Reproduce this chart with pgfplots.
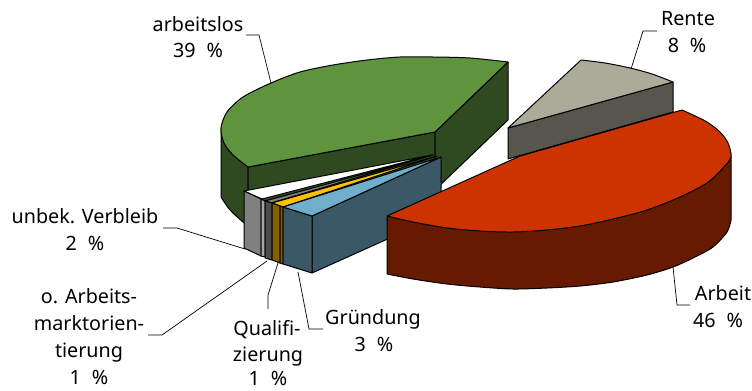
\documentclass[border=0pt]{standalone}
\usepackage{pgfplots}
\pgfplotsset{compat=1.18}
\usepackage{fontspec}
\setmainfont{Noto Sans}
\definecolor{gtop}{HTML}{5F943F}
\definecolor{gside}{HTML}{2F4A20}
\definecolor{rtop}{HTML}{CC3300}
\definecolor{rside}{HTML}{661A00}
\definecolor{ntop}{HTML}{ABAB99}
\definecolor{nside}{HTML}{56564D}
\definecolor{btop}{HTML}{70AFCC}
\definecolor{bside}{HTML}{3A5866}
\definecolor{ytop}{HTML}{FFC000}
\definecolor{yside}{HTML}{806000}
\definecolor{gr}{HTML}{808080}
\definecolor{dgr}{HTML}{4D4D4D}
\tikzset{
  slice/.style={draw=black, line width=1bp, line join=round},
  leader/.style={draw=black, line width=0.7bp},
  lab/.style={font=\fontsize{19.8}{24}\selectfont, inner sep=0pt, anchor=base},
}
% percentage with the wide gap before the sign
\newcommand{\pct}[1]{#1\hspace{0.55em}\%}
\begin{document}
\begin{tikzpicture}[x=1bp,y=1bp]
\path[use as bounding box] (0,0) rectangle (752,390);
\begin{axis}[
  at={(0,0)}, anchor=south west,
  width=752bp, height=390bp, scale only axis,
  xmin=0, xmax=752, ymin=0, ymax=390, y dir=reverse,
  hide axis, clip=false,
]
% arbeitslos 39 %: rim, cut faces, then the top
\addplot[slice, fill=gside, smooth] coordinates {(221,197)(230,210)(243,222)(248,226)} -- (axis cs:248,167) -- (axis cs:221,128) -- cycle;
\addplot[slice, fill=gside] coordinates {(248,167)(435,132)(435,190)(248,226)} -- cycle;
\addplot[slice, fill=gside] coordinates {(435,132)(508,62)(508,120)(435,190)} -- cycle;
\addplot[slice, fill=gtop, smooth] coordinates {(248,167)(233,155)(224,143)(221,128)(227,112)(243,97)(271,83)(300,72)(333,65)(367,60)(400,57)(433,57)(470,58)(508,62)} -- (axis cs:435,132) -- cycle;
% unbek. Verbleib 2 %
\addplot[slice, fill=white] coordinates {(244,191)(262,199)(432,155)} -- cycle;
\addplot[slice, fill=gr] coordinates {(244,191)(261,199)(261,256)(244,248)} -- cycle;
\addplot[slice, fill=gray!70] coordinates {(261,199)(265,201)(265,257)(261,256)} -- cycle;
% o. Arbeitsmarktorientierung 1 %
\addplot[slice, fill=gr] coordinates {(265,201)(271,203)(433,155)} -- cycle;
\addplot[slice, fill=dgr] coordinates {(265,201)(272,203)(272,260)(265,258)} -- cycle;
% Qualifizierung 1 %
\addplot[slice, fill=ytop] coordinates {(272,203)(283,207)(437,156)} -- cycle;
\addplot[slice, fill=yside] coordinates {(272,203)(280,206)(280,263)(272,260)} -- cycle;
\addplot[slice, fill=yside] coordinates {(280,206)(283,207)(283,264)(280,263)} -- cycle;
% Gründung 3 %
\addplot[slice, fill=bside] coordinates {(312,216)(441,157)(441,215)(312,273)} -- cycle;
\addplot[slice, fill=bside] coordinates {(283,207)(312,216)(312,273)(283,264)} -- cycle;
\addplot[slice, fill=btop] coordinates {(283,207)(312,216)(441,157)} -- cycle;
% Rente 8 %
\addplot[slice, fill=nside] coordinates {(508,128)(673,82)(673,112)(508,159)} -- cycle;
\addplot[slice, fill=ntop, smooth] coordinates {(581,60)(605,63)(630,68)(652,74)(673,82)} -- (axis cs:508,128) -- cycle;
% Arbeit 46 %: rim first, the top covers its upper edge
\addplot[slice, fill=rside, smooth] coordinates {(387,274)(413,279)(447,284)(480,287)(513,289)(547,288)(580,286)(613,282)(647,275)(673,267)(693,258)(713,247)(727,232)(731,220)} -- (axis cs:731,157) -- (axis cs:387,216) -- cycle;
\addplot[slice, fill=rtop, smooth] coordinates {(387,216)(413,222)(447,228)(480,231)(513,232)(547,230)(580,226)(613,219)(647,210)(680,197)(707,183)(723,168)(731,157)(728,143)(720,132)(707,122)(693,115)(682,110)} -- (axis cs:520,156) -- cycle;
% leader lines
\addplot[leader] coordinates {(246,35)(259,35)(271,83)};
\addplot[leader] coordinates {(631,69)(643,31)(657,31)};
\addplot[leader] coordinates {(673,267)(677,305)(690,305)};
\addplot[leader] coordinates {(163,228)(177,228)(245,249)};
\addplot[leader] coordinates {(148,335)(162,335)(267,261)};
\addplot[leader] coordinates {(268,309)(268,295)(278,263)};
\addplot[leader] coordinates {(323,329)(309,329)(298,272)};
% labels
\node[lab] at (axis cs:198,31) {arbeitslos};
\node[lab] at (axis cs:198,57) {\pct{39}};
\node[lab] at (axis cs:688,25) {Rente};
\node[lab] at (axis cs:687,52) {\pct{8}};
\node[lab] at (axis cs:723,300) {Arbeit};
\node[lab] at (axis cs:718,327) {\pct{46}};
\node[lab] at (axis cs:85,223) {unbek. Verbleib};
\node[lab] at (axis cs:85,250) {\pct{2}};
\node[lab] at (axis cs:89,303) {o. Arbeits-};
\node[lab] at (axis cs:89,330) {marktorien-};
\node[lab] at (axis cs:89,357) {tierung};
\node[lab] at (axis cs:89,384) {\pct{1}};
\node[lab] at (axis cs:267,335) {Qualifi-};
\node[lab] at (axis cs:268,361) {zierung};
\node[lab] at (axis cs:268,385) {\pct{1}};
\node[lab] at (axis cs:373,324) {Gründung};
\node[lab] at (axis cs:374,351) {\pct{3}};
\end{axis}
\end{tikzpicture}
\end{document}
